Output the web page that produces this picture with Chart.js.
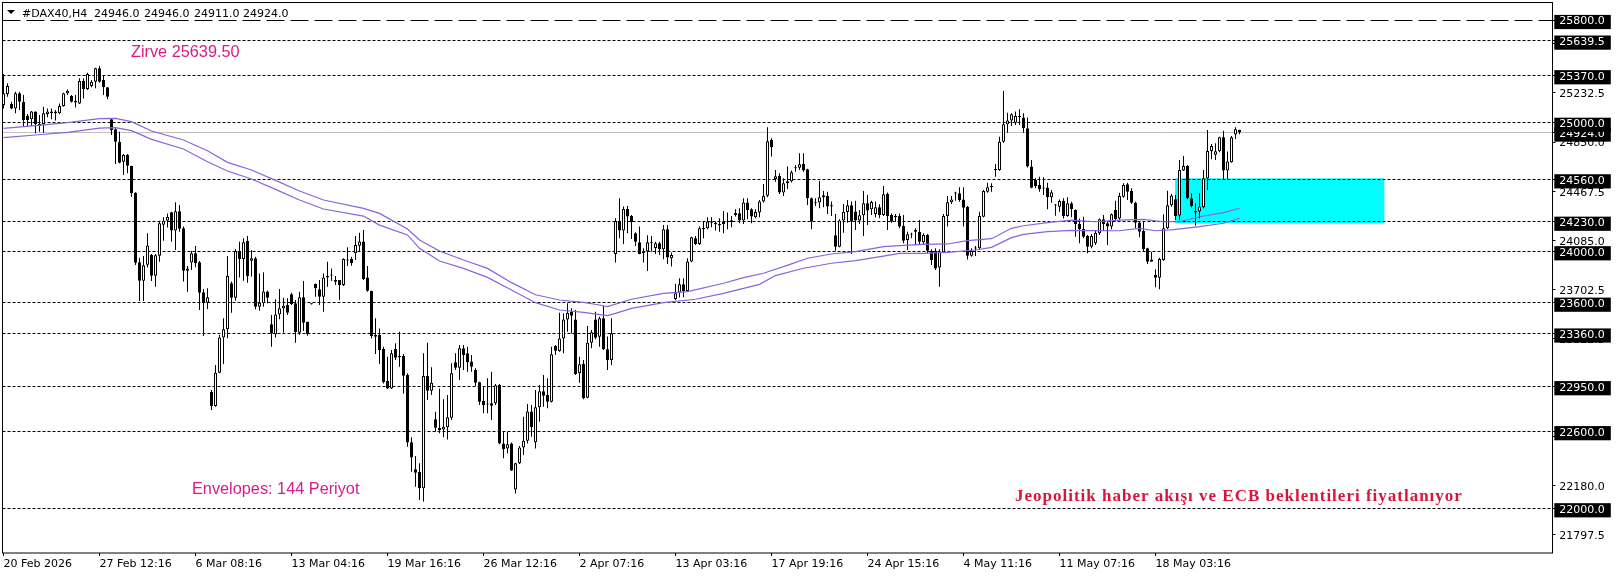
<!DOCTYPE html>
<html>
<head>
<meta charset="utf-8">
<title>#DAX40,H4</title>
<script src="https://cdn.jsdelivr.net/npm/chart.js@4"></script>
<style>
html, body { margin: 0; padding: 0; background: #fff; }
canvas { display: block; }
</style>
</head>
<body>
<canvas id="chart" width="1616" height="577"></canvas>
<script>
// H4 candles, one entry per bar
const opens = [
25138,25224,25146,25112,25229,25164,25055,25027,25087,24975,
24991,25068,25074,25074,25074,25131,25229,25209,25170,25151,
25325,25263,25286,25320,25424,25333,25276,25027,24949,24853,
24697,24749,24664,24456,23914,23771,23896,23971,23810,23966,
24207,24238,24303,24161,24311,24179,23849,23912,23984,23914,
23681,23600,22905,22796,23055,23330,23393,23751,23639,24002,
23940,24080,23927,23945,23569,23595,23688,23432,23354,23509,
23556,23582,23665,23595,23367,23642,23452,23592,23745,23704,
23647,23808,23812,23776,23776,23738,23937,23940,23984,24044,
24077,23797,23691,23348,23348,23240,22990,22933,23240,23185,
23185,23037,22513,22303,22285,22155,23029,22915,22692,22625,
22614,22630,22705,23136,23094,23245,23206,23143,23076,22980,
22835,22813,22817,22817,22959,22505,22466,22505,22147,22350,
22474,22526,22754,22513,22786,22910,22881,22830,23263,23224,
23322,23470,23530,23470,23050,23123,22861,23289,23470,23335,
23478,23237,23154,23979,24236,24161,24330,24275,24140,24070,
23985,23998,24070,24026,24062,24016,24171,23946,23629,23678,
23743,23691,23920,24101,24057,24182,24179,24231,24223,24210,
24231,24231,24241,24298,24296,24239,24379,24327,24265,24301,
24387,24433,24867,24563,24586,24457,24529,24545,24646,24651,
24680,24638,24413,24379,24379,24420,24431,24358,24125,24036,
24239,24306,24358,24309,24239,24280,24374,24327,24291,24343,
24283,24446,24282,24275,24275,24197,24088,24130,24153,24153,
24070,24127,24005,24005,23873,23992,24275,24381,24449,24451,
24404,24347,23966,24021,24023,24269,24464,24508,24638,24633,
24853,24988,25017,25001,25046,25042,24957,24659,24555,24516,
24492,24495,24420,24356,24347,24391,24275,24373,24321,24212,
24174,24119,24036,24062,24140,24249,24218,24192,24321,24256,
24425,24521,24469,24378,24225,24158,24023,23919,23815,23795,
23932,24179,24358,24405,24278,24628,24664,24413,24314,24309,
24343,24566,24781,24752,24778,24887,24628,24693,24908,24946
];
const highs = [
25380,25307,25164,25242,25242,25216,25068,25092,25087,25061,
25125,25112,25112,25100,25151,25234,25260,25216,25216,25346,
25346,25390,25333,25429,25442,25372,25276,25035,24957,24931,
24757,24757,24666,24460,23950,23963,24140,23979,23979,24238,
24264,24295,24308,24381,24360,24192,23886,24002,24041,23924,
23707,23712,22921,23115,23349,23478,23963,23764,24015,24075,
24101,24119,24010,23958,23828,23836,23694,23504,23626,23707,
23639,23634,23678,23621,23686,23769,23452,23595,23750,23776,
23828,23919,23867,23808,23776,23945,24031,23958,24119,24145,
24166,23885,23693,23478,23400,23258,23180,23232,23284,23374,
23201,23050,22552,22407,22350,23206,23289,23097,22752,22933,
22848,22881,23128,23206,23271,23271,23258,23193,23089,22985,
22946,23011,23063,22967,22967,22596,22596,22511,22355,22485,
22713,22811,22804,22920,22959,23037,23011,23258,23271,23522,
23517,23595,23556,23543,23180,23154,23418,23387,23530,23491,
23575,23336,23478,24257,24413,24348,24353,24283,24148,24192,
24024,24125,24119,24075,24075,24205,24205,23990,23746,23790,
23790,23946,24114,24119,24192,24231,24265,24265,24231,24257,
24314,24301,24275,24327,24335,24413,24413,24335,24327,24400,
24524,24965,24880,24633,24607,24568,24659,24628,24672,24763,
24763,24643,24418,24413,24547,24470,24464,24387,24291,24249,
24368,24400,24387,24394,24322,24470,24439,24394,24387,24366,
24509,24457,24295,24290,24295,24282,24153,24145,24179,24243,
24140,24135,24015,24023,24015,24290,24430,24430,24464,24498,
24498,24352,24023,24041,24308,24477,24534,24529,24679,24892,
25247,25079,25074,25087,25105,25074,25042,24710,24568,24581,
24576,24534,24477,24368,24404,24412,24420,24386,24326,24256,
24269,24127,24135,24160,24256,24282,24231,24295,24394,24456,
24529,24534,24490,24386,24231,24231,24028,23997,23860,23950,
24288,24472,24446,24439,24711,24742,24672,24452,24374,24452,
24633,24944,24835,24841,24892,24939,24776,24898,24965,24946
];
const lows = [
25112,25203,25105,25074,25100,24975,24975,24975,24918,24931,
24923,25043,25027,25017,25068,25125,25216,25157,25120,25146,
25190,25255,25276,25268,25312,25216,25183,24905,24679,24685,
24594,24607,24425,23893,23613,23613,23873,23769,23725,23919,
24083,24186,24075,24010,24153,23764,23686,23854,23875,23543,
23341,23551,22765,22791,23050,23123,23323,23522,23616,23797,
23771,23756,23803,23548,23538,23569,23595,23258,23330,23471,
23367,23504,23582,23289,23350,23380,23343,23585,23647,23582,
23530,23725,23769,23738,23621,23730,23885,23888,23932,23997,
23776,23686,23322,23201,23123,22972,22928,22928,23154,23102,
22894,22479,22285,22168,22064,22052,22843,22881,22596,22583,
22552,22536,22687,23076,22998,23076,23063,23063,22952,22804,
22739,22739,22687,22804,22498,22389,22428,22290,22116,22345,
22415,22505,22557,22466,22674,22791,22778,22824,23193,23219,
23206,23374,23361,23037,22977,22848,22856,23245,23315,23258,
23232,23076,23115,23912,24101,24057,24140,24096,24042,23977,
23912,23847,23998,23979,23972,23938,23902,23881,23621,23640,
23642,23686,23915,24049,24049,24101,24171,24187,24161,24153,
24140,24171,24187,24270,24218,24213,24249,24218,24257,24265,
24379,24420,24737,24542,24446,24431,24485,24535,24620,24633,
24620,24361,24171,24353,24335,24343,24291,24275,24005,24031,
24145,24223,23979,24166,24213,24119,24205,24283,24265,24257,
24275,24166,24223,24231,24179,24062,24010,24101,24049,24057,
24049,23984,23893,23854,23725,23989,24192,24368,24394,24386,
24192,23937,23958,23963,24010,24264,24456,24464,24581,24627,
24845,24923,24975,24983,24983,24923,24653,24490,24490,24464,
24438,24327,24378,24277,24308,24256,24269,24264,24114,24062,
24101,23984,24023,24049,24127,24166,24049,24171,24243,24243,
24417,24399,24368,24179,24109,23997,23901,23919,23720,23704,
23927,24173,24347,24244,24244,24625,24405,24343,24200,24257,
24335,24477,24716,24711,24770,24560,24560,24690,24874,24911
];
const closes = [
25229,25286,25112,25229,25164,25022,25022,25087,24991,24991,
25074,25087,25087,25087,25131,25229,25250,25164,25157,25325,
25263,25380,25320,25424,25320,25276,25203,24944,24853,24690,
24749,24666,24451,23911,23771,23891,24046,23810,23969,24218,
24238,24269,24161,24311,24176,23849,23867,23984,23906,23678,
23595,23642,22796,23055,23330,23393,23808,23639,24002,23940,
24070,23808,23945,23569,23600,23688,23639,23362,23509,23556,
23577,23522,23590,23372,23642,23444,23354,23588,23712,23647,
23797,23797,23818,23763,23738,23940,23929,23906,24049,24077,
23784,23693,23341,23335,23232,22980,22933,23206,23172,23175,
23032,22511,22396,22277,22155,23029,22915,22977,22627,22609,
22635,22708,23050,23094,23245,23193,23136,23102,22977,22830,
22804,22808,22798,22957,22505,22459,22498,22295,22350,22474,
22526,22754,22630,22786,22910,22876,22830,23198,23226,23322,
23470,23522,23499,23045,23120,22856,23289,23369,23328,23478,
23237,23154,23362,24236,24161,24330,24270,24226,24075,23979,
24000,24070,24062,24062,24016,24171,23951,23972,23673,23743,
23691,23920,24109,24057,24179,24171,24231,24223,24210,24205,
24213,24226,24228,24283,24239,24379,24322,24270,24306,24387,
24433,24856,24809,24584,24457,24529,24545,24615,24654,24677,
24628,24413,24231,24374,24420,24436,24348,24348,24036,24239,
24306,24358,24231,24239,24280,24374,24317,24384,24343,24283,
24444,24275,24231,24264,24192,24083,24132,24134,24166,24075,
24127,24005,23932,23867,23997,24275,24381,24404,24453,24399,
24339,23966,24002,24025,24275,24469,24498,24498,24633,24853,
24988,25017,25066,25053,25050,24957,24659,24495,24508,24485,
24488,24420,24459,24360,24391,24275,24373,24329,24212,24174,
24114,24036,24119,24145,24249,24212,24192,24288,24251,24430,
24516,24464,24378,24223,24153,24015,23919,23937,23795,23940,
24179,24358,24435,24275,24633,24664,24413,24353,24301,24348,
24568,24781,24820,24778,24887,24628,24698,24887,24950,24924
];

// Envelopes(144), read at the bars where the band bends
const upperBars = [0,8,16,24,28,32,37,45,51,56,62,68,74,80,90,94,101,104,109,115,121,127,133,139,145,149,151,157,165,171,180,185,190,197,201,207,213,220,224,230,236,241,247,252,255,261,267,273,279,285,290,294,299,305,309];
const upperBand = [24957,24978,25001,25032,25035,25009,24936,24866,24783,24692,24633,24552,24469,24399,24334,24295,24173,24088,24002,23932,23867,23756,23662,23621,23603,23582,23569,23627,23673,23686,23751,23795,23829,23902,23946,23979,23998,24036,24044,24054,24057,24083,24098,24179,24199,24223,24243,24230,24243,24249,24230,24230,24269,24301,24335];
const lowerBars = [0,8,16,24,28,32,37,45,51,56,62,68,74,80,90,94,101,104,109,115,121,127,133,139,145,151,153,157,165,173,180,189,193,200,207,213,220,224,230,236,243,247,252,255,261,267,279,284,288,292,299,305,309];
const lowerBand = [24884,24905,24926,24959,24962,24939,24871,24796,24697,24625,24563,24482,24399,24329,24274,24204,24127,24023,23924,23867,23797,23699,23600,23543,23525,23499,23517,23556,23600,23627,23673,23743,23811,23868,23907,23927,23963,23984,23984,23992,24010,24031,24106,24132,24153,24163,24160,24179,24160,24166,24192,24218,24257];

// horizontal levels and axis labels
const levels = [25800,25639.5,25370,25000,24560,24230,24000,23600,23360,22950,22600,22000];
const lastPrice = 24924;
const plainTicks = [25615,25232.5,24850,24467.5,24085,23702.5,23322.5,22945,22562.5,22180,21797.5];
const dateBars = [0,24,48,72,96,120,144,168,192,216,240,264,288];
const dateLabels = ['20 Feb 2026','27 Feb 12:16','6 Mar 08:16','13 Mar 04:16','19 Mar 16:16','26 Mar 12:16','2 Apr 07:16','13 Apr 03:16','17 Apr 19:16','24 Apr 15:16','4 May 11:16','11 May 07:16','18 May 03:16'];

// cyan zone
const zoneBars = [292.9, 345.2];
const zonePrices = [24568, 24218];

const axisFont = { family: '"DejaVu Sans"', size: 11 };
const boxed = v => v === lastPrice || levels.includes(v);

// zone goes under the grid lines, so it has to be painted first
const zonePlugin = {
    id: 'zone',
    beforeDraw(chart) {
        const { x, y } = chart.scales;
        const c = chart.ctx;
        c.fillStyle = '#00ffff';
        c.fillRect(x.getPixelForValue(zoneBars[0]), y.getPixelForValue(zonePrices[0]),
            x.getPixelForValue(zoneBars[1]) - x.getPixelForValue(zoneBars[0]),
            y.getPixelForValue(zonePrices[1]) - y.getPixelForValue(zonePrices[0]));
    }
};

const textPlugin = {
    id: 'texts',
    afterDraw(chart) {
        const a = chart.chartArea;
        const c = chart.ctx;
        c.save();
        // frame
        c.strokeStyle = '#000';
        c.lineWidth = 1;
        c.strokeRect(a.left, a.top, a.right - a.left, a.bottom - a.top);
        // header
        c.fillStyle = '#000';
        c.beginPath();
        c.moveTo(7, 10); c.lineTo(15, 10); c.lineTo(11, 14); c.closePath();
        c.fill();
        c.font = '11px "DejaVu Sans"';
        c.textBaseline = 'alphabetic';
        c.fillText('#DAX40,H4', 22, 17);
        c.fillText('24946.0', 94, 17);
        c.fillText('24946.0', 144, 17);
        c.fillText('24911.0', 194, 17);
        c.fillText('24924.0', 243, 17);
        // notes
        c.font = '16.3px "Liberation Sans"';
        c.fillStyle = '#d81b8c';
        c.fillText('Zirve 25639.50', 131, 57);
        c.fillText('Envelopes: 144 Periyot', 192, 494);
        c.font = 'bold 17px "Liberation Serif"';
        c.letterSpacing = '1px';
        c.fillStyle = '#dc143c';
        c.fillText('Jeopolitik haber akışı ve ECB beklentileri fiyatlanıyor', 1015, 500.5);
        c.restore();
    }
};

const barIndex = opens.map((o, i) => i);

new Chart(document.getElementById('chart'), {
    type: 'bar',
    plugins: [zonePlugin, textPlugin],
    data: {
        datasets: [
            {
                type: 'line',
                data: upperBars.map((b, i) => ({ x: b, y: upperBand[i] })),
                borderColor: '#8a63dc',
                borderWidth: 1.2,
                pointRadius: 0,
                order: 0
            },
            {
                type: 'line',
                data: lowerBars.map((b, i) => ({ x: b, y: lowerBand[i] })),
                borderColor: '#8a63dc',
                borderWidth: 1.2,
                pointRadius: 0,
                order: 0
            },
            {
                // candle bodies
                data: barIndex.map(i => ({ x: i, y: [opens[i], closes[i]] })),
                backgroundColor: barIndex.map(i => closes[i] >= opens[i] ? '#ffffff' : '#000000'),
                borderColor: '#000000',
                borderWidth: 1,
                borderSkipped: false,
                inflateAmount: 0,
                barThickness: 3,
                minBarLength: 1,
                grouped: false,
                order: 1
            },
            {
                // wicks
                data: barIndex.map(i => ({ x: i, y: [lows[i], highs[i]] })),
                backgroundColor: '#000000',
                borderWidth: 0,
                inflateAmount: 0,
                barThickness: 1,
                grouped: false,
                order: 2
            }
        ]
    },
    options: {
        responsive: false,
        devicePixelRatio: 1,
        animation: false,
        events: [],
        layout: { padding: { left: 2.5, top: 2.5, right: 0, bottom: 0 } },
        plugins: { legend: { display: false }, tooltip: { enabled: false }, title: { display: false } },
        scales: {
            x: {
                type: 'linear',
                offset: false,
                min: -0.25,
                max: 387.25,
                afterFit(s) { s.height = 24; s.paddingLeft = 0; s.paddingRight = 0; },
                afterBuildTicks(s) { s.ticks = dateBars.map(v => ({ value: v })); },
                grid: { offset: false, drawOnChartArea: false, tickLength: 3, tickColor: '#000' },
                border: { display: false },
                ticks: {
                    autoSkip: false,
                    maxRotation: 0,
                    align: 'start',
                    padding: 2,
                    color: '#000',
                    font: axisFont,
                    callback: (v) => dateLabels[dateBars.indexOf(v)]
                }
            },
            y: {
                type: 'linear',
                position: 'right',
                min: 21652,
                max: 25936.2,
                afterFit(s) { s.width = 63.5; s.paddingTop = 0; s.paddingBottom = 0; },
                // plain ticks first so the black level boxes land on top of them
                afterBuildTicks(s) {
                    s.ticks = plainTicks.concat([lastPrice], levels).map(v => ({ value: v }));
                },
                grid: {
                    tickLength: 3,
                    tickColor: '#000',
                    color: c => {
                        const v = c.tick && c.tick.value;
                        if (v === lastPrice) return '#c0c0c0';
                        return levels.includes(v) ? '#000' : 'rgba(0,0,0,0)';
                    }
                },
                border: {
                    display: false,
                    dash: c => {
                        const v = c.tick && c.tick.value;
                        if (v === 25800) return [18, 6];
                        return v === lastPrice ? [] : [3, 2];
                    }
                },
                ticks: {
                    autoSkip: false,
                    padding: 3.8,
                    labelOffset: 1.5,
                    font: axisFont,
                    color: c => boxed(c.tick.value) ? '#fff' : '#000',
                    showLabelBackdrop: c => boxed(c.tick.value),
                    backdropColor: '#000',
                    backdropPadding: { left: 5, right: 6, top: 0, bottom: 1 },
                    callback: v => v.toFixed(1)
                }
            }
        }
    }
});
</script>
</body>
</html>
